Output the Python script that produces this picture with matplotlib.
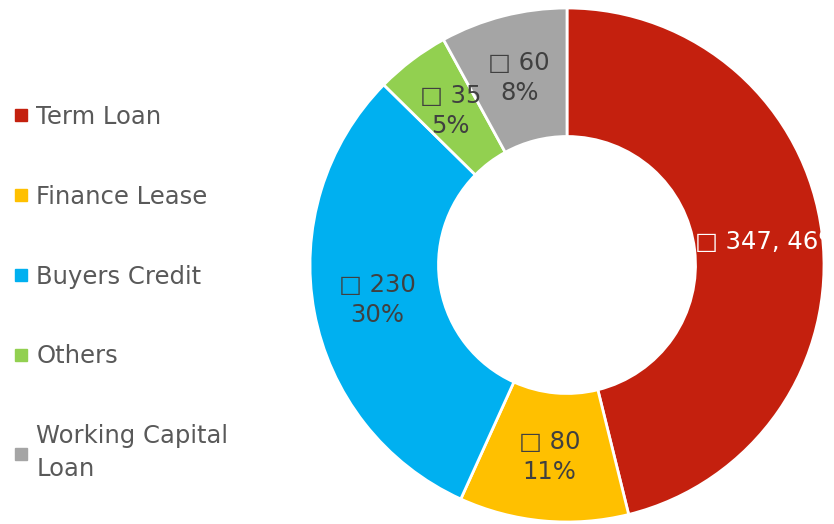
import numpy as np
import matplotlib.pyplot as plt
from matplotlib.lines import Line2D

# Debt mix (amounts and shares)
categories = ['Term Loan', 'Finance Lease', 'Buyers Credit', 'Others', 'Working Capital\nLoan']
amounts = [347, 80, 230, 35, 60]
shares = [46, 11, 30, 5, 8]
colors = ['#C4200E', '#FFC000', '#00B0F0', '#92D050', '#A5A5A5']

plt.rcParams['font.family'] = ['DejaVu Sans']

W, H = 834, 524
fig = plt.figure(figsize=(W / 100, H / 100), dpi=100)

# Donut placed on the right side (pixel centre measured from the top)
cx, cy, r = 567, 265, 257
ax = fig.add_axes([(cx - r) / W, (H - cy - r) / H, 2 * r / W, 2 * r / H])

wedges, texts = ax.pie(amounts, colors=colors, startangle=90, counterclock=False,
                       radius=1.0,
                       wedgeprops=dict(width=0.5, edgecolor='white', linewidth=2))

# Value / percent labels in the middle of the ring
for i, w in enumerate(wedges):
    ang = np.deg2rad((w.theta1 + w.theta2) / 2)
    x, y = 0.75 * np.cos(ang), 0.75 * np.sin(ang)
    if i == 0:
        txt = f'\u25a1 {amounts[i]}, {shares[i]}%'
        ax.text(x + 0.04, y, txt, ha='center', va='center', fontsize=17.5,
                color='white', clip_on=False)
    else:
        txt = f'\u25a1 {amounts[i]}\n{shares[i]}%'
        ax.text(x, y, txt, ha='center', va='center', fontsize=17.5,
                color='#404040', linespacing=1.3, clip_on=False)

ax.set_xlim(-1, 1)
ax.set_ylim(-1, 1)
ax.set_aspect('equal')
ax.axis('off')

# Legend on the left
handles = [Line2D([0], [0], marker='s', linestyle='none', markersize=8,
                  markerfacecolor=c, markeredgecolor=c) for c in colors]
leg = fig.legend(handles, categories, loc='upper left', bbox_to_anchor=(0.0, 0.828),
                 frameon=False, fontsize=17.5, labelcolor='#595959',
                 handlelength=0.55, handletextpad=0.35, labelspacing=2.3,
                 borderaxespad=0.2)
for t in leg.get_texts():
    t.set_linespacing(1.45)

fig.savefig('out.png', dpi=100)
